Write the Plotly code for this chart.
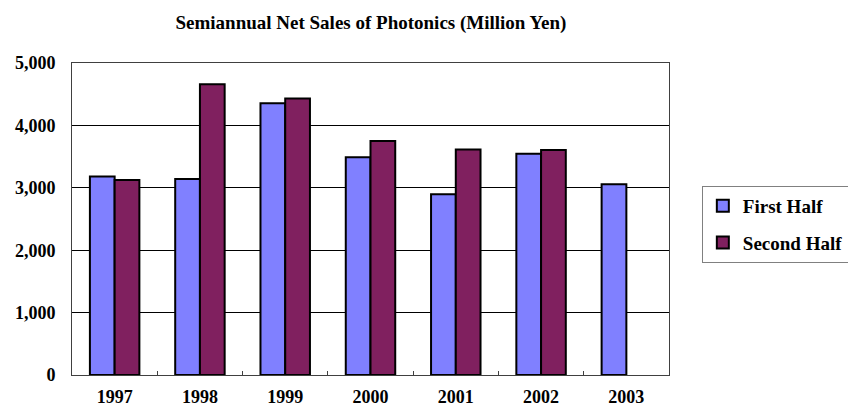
import plotly.graph_objects as go

years = ["1997", "1998", "1999", "2000", "2001", "2002", "2003"]
first_half = [3180, 3140, 4355, 3490, 2895, 3545, 3055]
second_half = [3125, 4660, 4430, 3750, 3615, 3605, None]
y_ticks = [0, 1000, 2000, 3000, 4000, 5000]
y_labels = ["0", "1,000", "2,000", "3,000", "4,000", "5,000"]

FONT = "Liberation Serif"

fig = go.Figure()
fig.add_trace(go.Bar(name="<b>First Half</b>", x=years, y=first_half, legendgroup="a",
                     marker=dict(color="#8080FF", line=dict(color="black", width=2))))
fig.add_trace(go.Bar(name="<b>Second Half</b>", x=years, y=second_half, legendgroup="b",
                     marker=dict(color="#80205F", line=dict(color="black", width=2))))

fig.update_layout(
    width=856, height=410,
    margin=dict(l=64, r=195, t=55, b=43),
    paper_bgcolor="white", plot_bgcolor="white",
    barmode="group", bargap=0.42, bargroupgap=0,
    font=dict(family=FONT, color="black"),
    title=dict(text="<b>Semiannual Net Sales of Photonics (Million Yen)</b>",
               font=dict(family=FONT, size=19, color="black"),
               x=0.424, xanchor="center", y=0.964, yanchor="middle"),
    showlegend=True,
    legend=dict(x=1.055, xanchor="left", y=0.606, yanchor="top",
                bordercolor="#808080", borderwidth=1, bgcolor="white",
                font=dict(family=FONT, size=19, color="black"),
                traceorder="grouped", tracegroupgap=9),
)
fig.update_xaxes(type="category", showline=True, linecolor="#404040", linewidth=1,
                 mirror=True, ticks="inside", tickson="boundaries", ticklen=4,
                 tickcolor="#404040", showgrid=False, ticklabelstandoff=5,
                 automargin=False,
                 tickprefix="<b>", ticksuffix="</b>",
                 tickfont=dict(family=FONT, size=18, color="black"))
fig.update_yaxes(range=[0, 5000], tickvals=y_ticks,
                 ticktext=["<b>" + t + "</b>" for t in y_labels],
                 showline=True, linecolor="#404040", linewidth=1, mirror=True,
                 ticks="", ticklabelstandoff=12, automargin=False,
                 showgrid=True, gridcolor="black", gridwidth=1, zeroline=False,
                 tickfont=dict(family=FONT, size=18, color="black"))

fig.write_html("out.html")
